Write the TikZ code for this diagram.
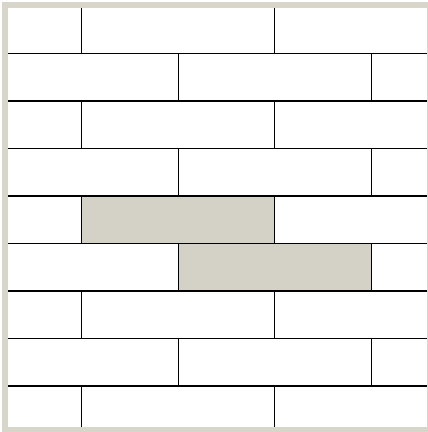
\documentclass[tikz,border=0pt]{standalone}
\definecolor{stone}{HTML}{D4D1C6}
\definecolor{framec}{HTML}{D8D5CA}
\tikzset{
  brick/.style={draw=black, line width=1.5pt, fill=white},
  hibrick/.style={draw=black, line width=1.5pt, fill=stone},
  frameline/.style={draw=framec, line width=6.6pt}
}
\begin{document}
\begin{tikzpicture}[x=1pt,y=-1pt]
\useasboundingbox (0,0) rectangle (428,432);
\fill[white] (0,0) rectangle (428,432);
\begin{scope}
\clip (5,5) rectangle (428,432);
\foreach \r in {0,...,8}{
  \pgfmathsetmacro{\ytop}{5.8+47.5*\r}
  \pgfmathsetmacro{\ybot}{5.8+47.5*(\r+1)}
  \pgfmathsetmacro{\xoff}{mod(\r,2)==0 ? -111.0 : -14.1}
  \foreach \k in {0,1,2}{
    \pgfmathsetmacro{\xa}{\xoff+192.7*\k}
    \pgfmathsetmacro{\xb}{\xoff+192.7*(\k+1)}
    \path[brick] (\xa,\ytop) rectangle (\xb,\ybot);
  }
}
\path[hibrick] (81.7,195.8) rectangle (274.4,243.3);
\path[hibrick] (178.6,243.3) rectangle (371.3,290.8);
\end{scope}
\path[frameline] (5,5) rectangle (430,430);
\end{tikzpicture}
\end{document}
